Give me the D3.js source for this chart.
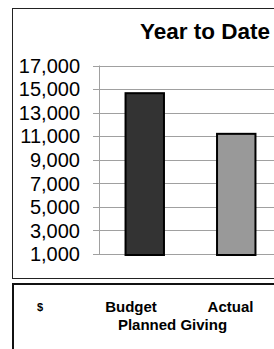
<!DOCTYPE html>
<html>
<head>
<meta charset="utf-8">
<script src="https://cdn.jsdelivr.net/npm/d3@7"></script>
<style>
  body { margin: 0; background: #fff; }
  text { font-family: "Liberation Sans", Arial, sans-serif; }
</style>
</head>
<body>
<div id="chart"></div>
<script>
// values
const categories = ['Budget', 'Actual']
const values = [14650, 11200]
const barColors = ['#333333', '#999999']
const yTicks = [1000, 3000, 5000, 7000, 9000, 11000, 13000, 15000, 17000]
const title = 'Year to Date'
const groupLabel = 'Planned Giving'
const unitLabel = '$'

const width = 274
const height = 349
const margin = {'top': 66, 'left': 99, 'bottom': 95, 'right': -8}

var svg = d3.select('#chart')
    .append('svg')
    .attr('width', width)
    .attr('height', height)

// chart box
svg.append('rect')
    .attr('x', 12.5).attr('y', 8.5)
    .attr('width', 280).attr('height', 270)
    .attr('fill', 'none')
    .attr('stroke', '#222')
    .attr('stroke-width', 1)

// table box below
svg.append('rect')
    .attr('x', 13).attr('y', 284)
    .attr('width', 280).attr('height', 80)
    .attr('fill', 'none')
    .attr('stroke', '#111')
    .attr('stroke-width', 2)

var x = d3.scaleBand()
    .domain(categories)
    .range([margin.left, width - margin.right])
    .paddingInner(0.58)
    .paddingOuter(0.29)

var y = d3.scaleLinear()
    .domain([1000, 17000])
    .range([254, 65.5])

// gridlines
svg.append('g')
    .selectAll('line')
    .data(yTicks)
    .enter()
    .append('line')
    .attr('x1', margin.left - 6)
    .attr('x2', width)
    .attr('y1', d => Math.round(y(d)) + 0.5)
    .attr('y2', d => Math.round(y(d)) + 0.5)
    .attr('stroke', '#a0a0a0')

// y axis line
svg.append('line')
    .attr('x1', margin.left + 0.5).attr('x2', margin.left + 0.5)
    .attr('y1', y(17000)).attr('y2', y(1000) + 1)
    .attr('stroke', '#a0a0a0')

// tick labels
svg.append('g')
    .selectAll('text')
    .data(yTicks)
    .enter()
    .append('text')
    .attr('x', 80)
    .attr('y', d => y(d))
    .attr('dy', '0.36em')
    .attr('text-anchor', 'end')
    .style('font-size', '20px')
    .text(d => d3.format(',')(d))

// bars
svg.append('g')
    .selectAll('rect')
    .data(values)
    .enter()
    .append('rect')
    .attr('x', (d, i) => x(categories[i]))
    .attr('y', d => y(d))
    .attr('width', x.bandwidth())
    .attr('height', d => y(1000) + 1 - y(d))
    .attr('fill', (d, i) => barColors[i])
    .attr('stroke', '#000')
    .attr('stroke-width', 2)

// title
svg.append('text')
    .attr('x', 205)
    .attr('y', 39)
    .attr('text-anchor', 'middle')
    .style('font-size', '22.5px')
    .style('font-weight', 'bold')
    .text(title)

// table texts
svg.append('text')
    .attr('x', 40)
    .attr('y', 311)
    .attr('text-anchor', 'middle')
    .style('font-size', '11px')
    .style('font-weight', 'bold')
    .text(unitLabel)

var colCenters = [131, 230.5]
svg.append('g')
    .selectAll('text')
    .data(categories)
    .enter()
    .append('text')
    .attr('x', (d, i) => colCenters[i])
    .attr('y', 312)
    .attr('text-anchor', 'middle')
    .style('font-size', '15px')
    .style('font-weight', 'bold')
    .text(d => d)

svg.append('text')
    .attr('x', 172.5)
    .attr('y', 330)
    .attr('text-anchor', 'middle')
    .style('font-size', '15px')
    .style('font-weight', 'bold')
    .text(groupLabel)
</script>
</body>
</html>
